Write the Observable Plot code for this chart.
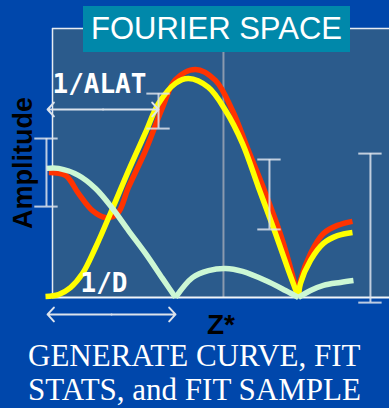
<!DOCTYPE html>
<html>
<head>
<meta charset="utf-8">
<script src="https://cdn.jsdelivr.net/npm/d3@7"></script>
<script src="https://cdn.jsdelivr.net/npm/@observablehq/plot@0.6"></script>
<style>
  html, body { margin: 0; padding: 0; }
  body {
    width: 389px; height: 408px; overflow: hidden; position: relative;
    background: #0047AB;
  }
  #chart { position: absolute; left: 0; top: 0; }
  .title {
    position: absolute; left: 83px; top: 6px; width: 267px; height: 46px;
    background: #0088AA; color: #fff; text-align: center;
    font: 31px/46px "Liberation Sans", Arial, sans-serif;
  }
  .caption {
    position: absolute; left: 28px; top: 339px; color: #fff; white-space: nowrap;
    font: 31px/34px "Liberation Serif", "Times New Roman", serif;
  }
</style>
</head>
<body>
<div id="chart"></div>
<div class="title">FOURIER SPACE</div>
<div class="caption">GENERATE CURVE, FIT<br>STATS, and FIT SAMPLE</div>
<script>
// Amplitude curves as [z*, amplitude] pairs; z* in units of 1/D.
const redCurve = [
  [-0.03, 0.465], [0.106, 0.454], [0.211, 0.387], [0.325, 0.323], [0.431, 0.297],
  [0.528, 0.312], [0.618, 0.410], [0.756, 0.546], [0.894, 0.706], [1.0, 0.810],
  [1.163, 0.848], [1.325, 0.807], [1.463, 0.695], [1.593, 0.546], [1.732, 0.387],
  [1.870, 0.212], [2.0, 0], [2.016, 0.063], [2.098, 0.164], [2.203, 0.238],
  [2.317, 0.268], [2.439, 0.283]
];
const yellowCurve = [
  [-0.057, 0.004], [0.049, 0.011], [0.146, 0.037], [0.244, 0.089], [0.350, 0.186],
  [0.488, 0.331], [0.618, 0.472], [0.756, 0.613], [0.862, 0.721], [1.0, 0.796],
  [1.106, 0.814], [1.268, 0.781], [1.407, 0.695], [1.545, 0.572], [1.675, 0.409],
  [1.813, 0.238], [1.919, 0.100], [2.0, 0], [2.016, 0.052], [2.098, 0.138],
  [2.203, 0.201], [2.317, 0.230], [2.439, 0.242]
];
const greenCurve = [
  [-0.049, 0.480], [0.049, 0.480], [0.211, 0.454], [0.350, 0.405], [0.488, 0.331],
  [0.618, 0.249], [0.756, 0.164], [0.894, 0.071], [1.0, 0], [1.138, 0.074],
  [1.268, 0.100], [1.407, 0.108], [1.545, 0.097], [1.732, 0.063], [1.894, 0.026],
  [2.0, 0], [2.098, 0.026], [2.203, 0.045], [2.341, 0.056], [2.447, 0.063]
];

// Error bars: position and amplitude range.
const errorBars = [
  {z: -0.049, lo: 0.338, hi: 0.591},
  {z: 0.862, lo: 0.628, hi: 0.758},
  {z: 1.764, lo: 0.253, hi: 0.513},
  {z: 2.585, lo: -0.019, hi: 0.535}
];

// Double-headed spans for 1/ALAT and 1/D.
const spans = [
  {z1: -0.04, z2: 0.862, a: 0.699},
  {z1: -0.04, z2: 1.0, a: -0.063}
];
const spanLabels = [
  {text: "1/ALAT", z: 0, a: 0.762},
  {text: "1/D", z: 0.228, a: 0.019}
];
const midline = [1.39];
const zMax = 2.74;

// Each curve is split at its interior zeros so the nodes stay sharp cusps.
function lobes(points, name) {
  const rows = [];
  let lobe = 0;
  points.forEach(([z, a], i) => {
    rows.push({z, a, key: `${name}-${lobe}`});
    if (a === 0 && i > 0 && i < points.length - 1) {
      lobe++;
      rows.push({z, a, key: `${name}-${lobe}`});
    }
  });
  return rows;
}

const curve = (points, name, color) =>
  Plot.line(lobes(points, name), {
    x: "z", y: "a", z: "key", stroke: color, strokeWidth: 5.5,
    curve: "catmull-rom", strokeLinecap: "butt", strokeLinejoin: "round"
  });

const capHalf = 0.095;
const guide = "#DCE3EC";
const mid = d => (d.z1 + d.z2) / 2;

// A double-headed span is two arrows leaving its midpoint in opposite directions.
const spanArrow = end => Plot.arrow(spans, {
  x1: mid, x2: end, y1: "a", y2: "a", stroke: guide, strokeWidth: 2,
  headLength: 7, headAngle: 95, insetStart: 0, insetEnd: 0
});

const chart = Plot.plot({
  width: 389, height: 345,
  marginLeft: 52, marginRight: 0, marginTop: 28, marginBottom: 48,
  x: {domain: [0, zMax], axis: null},
  y: {domain: [0, 1], axis: null},
  style: {background: "transparent", overflow: "visible"},
  marks: [
    Plot.frame({fill: "#2B5B8C", stroke: null}),
    Plot.ruleX(midline, {y1: 0, y2: 1, stroke: "#8A9AAE", strokeWidth: 2}),
    Plot.ruleX([0], {y1: 0, y2: 1, stroke: "#E6ECF2", strokeWidth: 1.5}),
    Plot.ruleY([1], {x1: 0, x2: zMax, stroke: "#E6ECF2", strokeWidth: 1.5}),
    Plot.ruleY([0], {x1: 0, x2: zMax, stroke: "#F2F5F8", strokeWidth: 2}),
    curve(redCurve, "red", "#FF3300"),
    curve(yellowCurve, "yellow", "#FFFF00"),
    curve(greenCurve, "green", "#CCF7D4"),
    Plot.ruleX(errorBars, {x: "z", y1: "lo", y2: "hi", stroke: guide, strokeWidth: 2, strokeOpacity: 0.85}),
    Plot.ruleY(errorBars, {y: "lo", x1: d => d.z - capHalf, x2: d => d.z + capHalf, stroke: guide, strokeWidth: 2, strokeOpacity: 0.85}),
    Plot.ruleY(errorBars, {y: "hi", x1: d => d.z - capHalf, x2: d => d.z + capHalf, stroke: guide, strokeWidth: 2, strokeOpacity: 0.85}),
    spanArrow("z1"),
    spanArrow("z2"),
    Plot.text(spanLabels, {
      x: "z", y: "a", text: "text", textAnchor: "start", lineAnchor: "bottom",
      fill: "#FFFFFF", fontSize: 26, fontWeight: "bold",
      fontFamily: "'DejaVu Sans Mono', monospace"
    }),
    Plot.text(["Z*"], {
      frameAnchor: "bottom", dy: 28, textAnchor: "middle", lineAnchor: "middle", fill: "#000",
      fontSize: 28, fontWeight: "bold", fontFamily: "'Liberation Sans', Arial, sans-serif"
    }),
    Plot.text(["Amplitude"], {
      frameAnchor: "left", dx: -29, rotate: -90, textAnchor: "middle", lineAnchor: "middle", fill: "#000",
      fontSize: 27, fontWeight: "bold", fontFamily: "'Liberation Sans', Arial, sans-serif"
    })
  ]
});

document.getElementById("chart").appendChild(chart);
</script>
</body>
</html>
